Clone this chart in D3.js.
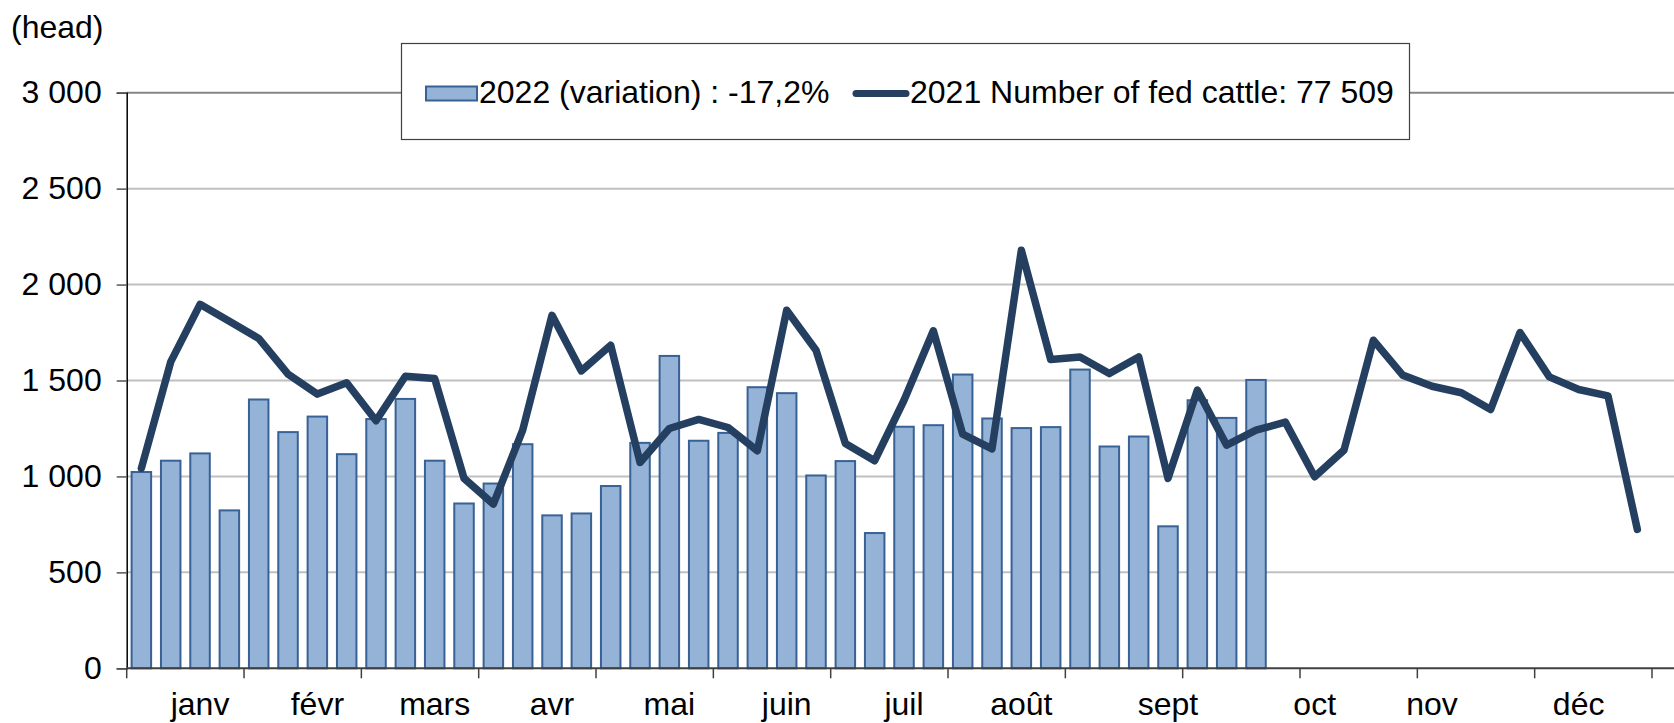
<!DOCTYPE html>
<html>
<head>
<meta charset="utf-8">
<script src="https://cdn.jsdelivr.net/npm/d3@7"></script>
<style>
  body { margin: 0; background: #fff; }
  svg { display: block; font-family: "Liberation Sans", Arial, sans-serif; }
</style>
</head>
<body>
<div id="chart"></div>
<script>

// weekly categories (1..52)
var weeks = d3.range(1, 53);

// 2022 weekly values (bars), weeks 1-39
var values2022 = [1023, 1082, 1120, 823, 1401, 1231, 1312, 1116, 1299, 1404,
                  1082, 859, 963, 1168, 797, 807, 950, 1175, 1628, 1186,
                  1227, 1465, 1434, 1005, 1080, 705, 1259, 1267, 1531, 1302,
                  1252, 1257, 1557, 1156, 1208, 740, 1397, 1305, 1503];

// 2021 weekly values (line), weeks 1-52
var values2021 = [1042, 1597, 1897, 1809, 1719, 1533, 1429, 1488, 1290, 1522,
                  1510, 990, 856, 1241, 1840, 1550, 1684, 1073, 1250, 1297,
                  1255, 1134, 1866, 1658, 1172, 1082, 1397, 1759, 1220, 1144,
                  2179, 1609, 1623, 1536, 1623, 990, 1450, 1163, 1241, 1283,
                  998, 1137, 1710, 1528, 1470, 1436, 1349, 1750, 1519, 1453,
                  1420, 724];

var monthNames = ['janv', 'févr', 'mars', 'avr', 'mai', 'juin', 'juil', 'août', 'sept', 'oct', 'nov', 'déc'];
var monthWeeks = [3, 7, 11, 15, 19, 23, 27, 31, 36, 41, 45, 50];
var yTicks = [0, 500, 1000, 1500, 2000, 2500, 3000];
var legendBar = '2022 (variation) : -17,2%';
var legendLine = '2021 Number of fed cattle: 77 509';

function drawChart(containerId){

    var width = 1674, height = 723;
    var left = 126.7, right = 1652, top = 92.7, bottom = 668.3;
    var fontSize = 32;

    var svg = d3.select('#' + containerId).append('svg')
        .attr('width', width)
        .attr('height', height);

    var x = d3.scaleBand()
        .domain(weeks)
        .range([left, right])
        .paddingInner(0.335)
        .paddingOuter(0.1675);

    var y = d3.scaleLinear()
        .domain([0, 3000])
        .range([bottom, top]);

    // gridlines
    svg.append('g')
      .selectAll('line')
      .data(yTicks.filter(d => d > 0))
      .join('line')
        .attr('x1', left)
        .attr('x2', width)
        .attr('y1', d => y(d))
        .attr('y2', d => y(d))
        .attr('stroke', d => d === 3000 ? '#868686' : '#c0c0c0')
        .attr('stroke-width', 2);

    // bars 2022
    svg.append('g')
      .selectAll('rect')
      .data(values2022)
      .join('rect')
        .attr('x', (d, i) => x(weeks[i]))
        .attr('y', d => y(d))
        .attr('width', x.bandwidth())
        .attr('height', d => y(0) - y(d))
        .attr('fill', '#95b3d7')
        .attr('stroke', '#386195')
        .attr('stroke-width', 2);

    // line 2021
    var line = d3.line()
        .x((d, i) => x(weeks[i]) + x.bandwidth() / 2)
        .y(d => y(d));

    svg.append('path')
        .attr('fill', 'none')
        .attr('stroke', '#243f60')
        .attr('stroke-width', 7.5)
        .attr('stroke-linejoin', 'round')
        .attr('stroke-linecap', 'round')
        .attr('d', line(values2021));

    // y axis
    var yAxis = svg.append('g')
        .attr('transform', 'translate(' + left + ',0)')
        .call(d3.axisLeft(y)
            .tickValues(yTicks)
            .tickSize(10)
            .tickPadding(15)
            .tickFormat(d => d3.format(',')(d).replace(',', ' ')));
    yAxis.select('.domain').attr('stroke', '#000').attr('stroke-width', 1.5);
    yAxis.selectAll('.tick line').attr('stroke', '#555').attr('stroke-width', 1.5);
    yAxis.selectAll('text')
        .attr('font-size', fontSize)
        .attr('font-family', '"Liberation Sans", Arial, sans-serif')
        .attr('fill', '#000');

    // x axis line
    svg.append('line')
        .attr('x1', left)
        .attr('x2', width)
        .attr('y1', y(0))
        .attr('y2', y(0))
        .attr('stroke', '#404040')
        .attr('stroke-width', 2);

    // x ticks every 4 weeks, on category boundaries
    var step = x.step();
    var tickPos = d3.range(0, 53, 4).map(k => left + k * step);
    svg.append('g')
      .selectAll('line')
      .data(tickPos)
      .join('line')
        .attr('x1', d => d)
        .attr('x2', d => d)
        .attr('y1', y(0))
        .attr('y2', y(0) + 10)
        .attr('stroke', '#404040')
        .attr('stroke-width', 1.5);

    // month labels
    svg.append('g')
      .selectAll('text')
      .data(monthNames)
      .join('text')
        .attr('x', (d, i) => x(monthWeeks[i]) + x.bandwidth() / 2)
        .attr('y', 715)
        .attr('text-anchor', 'middle')
        .attr('font-size', fontSize)
        .text(d => d);

    // unit label
    svg.append('text')
        .attr('x', 11)
        .attr('y', 38)
        .attr('font-size', fontSize)
        .text('(head)');

    // legend
    var legend = svg.append('g');
    legend.append('rect')
        .attr('x', 401.5)
        .attr('y', 43.5)
        .attr('width', 1008)
        .attr('height', 96)
        .attr('fill', '#fff')
        .attr('stroke', '#404040')
        .attr('stroke-width', 1.2);
    legend.append('rect')
        .attr('x', 426)
        .attr('y', 86.5)
        .attr('width', 51)
        .attr('height', 14)
        .attr('fill', '#95b3d7')
        .attr('stroke', '#386195')
        .attr('stroke-width', 2);
    legend.append('text')
        .attr('x', 479)
        .attr('y', 103)
        .attr('font-size', fontSize)
        .text(legendBar);
    legend.append('line')
        .attr('x1', 856)
        .attr('x2', 906)
        .attr('y1', 93.5)
        .attr('y2', 93.5)
        .attr('stroke', '#243f60')
        .attr('stroke-width', 7)
        .attr('stroke-linecap', 'round');
    legend.append('text')
        .attr('x', 910)
        .attr('y', 103)
        .attr('font-size', fontSize)
        .text(legendLine);
}

drawChart('chart');
</script>
</body>
</html>
